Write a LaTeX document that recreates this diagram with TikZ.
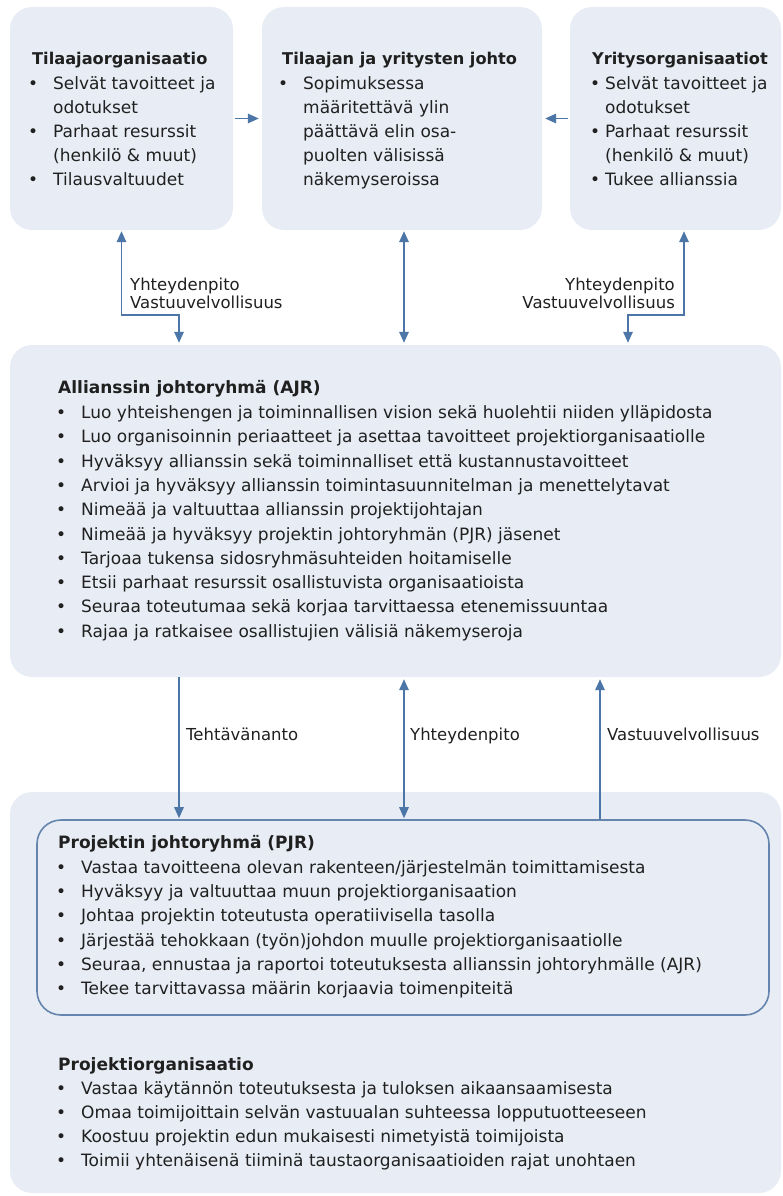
\documentclass[tikz,border=0pt]{standalone}
\usepackage{fontspec}
\setmainfont{DejaVu Sans}
\usetikzlibrary{arrows.meta}
\definecolor{boxfill}{HTML}{E8EDF5}
\definecolor{arrowc}{HTML}{4C76A8}
\definecolor{pjrline}{HTML}{6584AE}
\definecolor{txt}{HTML}{202020}
\newcommand{\bul}{\llap{\textbullet\hspace{15pt}}}
\newcommand{\bulR}{\llap{\textbullet\hspace{5pt}}}
\tikzset{
  panel/.style={fill=boxfill, draw=none, rounded corners=22pt, inner sep=0pt},
  line/.style={anchor=west, inner sep=0pt, text height=11pt, text depth=0pt,
    text=txt, font=\fontsize{17}{24}\selectfont},
  ttl/.style={line, font=\fontsize{17}{24}\selectfont\bfseries},
  topttl/.style={line, font=\fontsize{16.2}{24}\selectfont\bfseries},
  lbl/.style={inner sep=0pt, text height=11pt, text depth=0pt,
    text=txt, font=\fontsize{16.5}{18}\selectfont},
  conn/.style={draw=arrowc, line width=1.5pt,
    >={Triangle[length=11pt,width=9.5pt]}},
}
\begin{document}
\begin{tikzpicture}[x=1pt,y=-1pt]
\fill[white] (0,0) rectangle (782,1196);
\useasboundingbox (0,0) rectangle (782,1196);

% ---------- panels ----------
\node[panel, minimum width=223pt, minimum height=223pt] (tl) at (121.5,118.5) {};
\node[panel, minimum width=280pt, minimum height=223pt] (tm) at (402,118.5) {};
\node[panel, minimum width=211pt, minimum height=223pt] (tr) at (675.5,118.5) {};
\node[panel, minimum width=771pt, minimum height=332pt] (ajr) at (395.5,511) {};
\node[panel, minimum width=771pt, minimum height=401pt] (low) at (395.5,992.5) {};
\node[draw=pjrline, line width=1.6pt, rounded corners=24pt, inner sep=0pt,
      minimum width=732pt, minimum height=195pt] (pjr) at (403,917.5) {};

% ---------- top-left ----------
\node[topttl] (tlT) at (32,59) {Tilaajaorganisaatio};
\node[line] (tl1) at (53,84) {\bul Selvät tavoitteet ja};
\node[line] (tl2) at (53,108) {odotukset};
\node[line] (tl3) at (53,132) {\bul Parhaat resurssit};
\node[line] (tl4) at (53,156) {(henkilö \& muut)};
\node[line] (tl5) at (53,180) {\bul Tilausvaltuudet};

% ---------- top-middle ----------
\node[topttl] (tmT) at (282,59) {Tilaajan ja yritysten johto};
\node[line] (tm1) at (303,84) {\bul Sopimuksessa};
\node[line] (tm2) at (303,108) {määritettävä ylin};
\node[line] (tm3) at (303,132) {päättävä elin osa-};
\node[line] (tm4) at (303,156) {puolten välisissä};
\node[line] (tm5) at (303,180) {näkemyseroissa};

% ---------- top-right ----------
\node[topttl] (trT) at (592,59) {Yritysorganisaatiot};
\node[line] (tr1) at (605,84) {\bulR Selvät tavoitteet ja};
\node[line] (tr2) at (605,108) {odotukset};
\node[line] (tr3) at (605,132) {\bulR Parhaat resurssit};
\node[line] (tr4) at (605,156) {(henkilö \& muut)};
\node[line] (tr5) at (605,180) {\bulR Tukee allianssia};

% ---------- top connectors ----------
\draw[conn,->] ([xshift=2pt]tl.east) -- ([xshift=-3pt]tm.west);
\draw[conn,->] ([xshift=-2pt]tr.west) -- ([xshift=3pt]tm.east);

\coordinate (kL) at (179,315);
\coordinate (kR) at (628,315);
\coordinate (mX) at (404,0);
\coordinate (rX) at (684,0);
\draw[conn,<->] ([yshift=-1pt]tl.south) |- (kL) -- ([yshift=2pt]ajr.north -| kL);
\draw[conn,<->] ([yshift=-1pt]tm.south -| mX) -- ([yshift=2pt]ajr.north -| mX);
\draw[conn,<->] ([yshift=-1pt]tr.south -| rX) |- (kR) -- ([yshift=2pt]ajr.north -| kR);

\node[lbl, anchor=west] (lL1) at (130,285) {Yhteydenpito};
\node[lbl, anchor=west] (lL2) at (130,303) {Vastuuvelvollisuus};
\node[lbl, anchor=east] (lR1) at (675,285) {Yhteydenpito};
\node[lbl, anchor=east] (lR2) at (675,303) {Vastuuvelvollisuus};

% ---------- AJR ----------
\node[ttl] (ajrT) at (58,388) {Allianssin johtoryhmä (AJR)};
\foreach \t [count=\i from 0] in {
  {Luo yhteishengen ja toiminnallisen vision sekä huolehtii niiden ylläpidosta},
  {Luo organisoinnin periaatteet ja asettaa tavoitteet projektiorganisaatiolle},
  {Hyväksyy allianssin sekä toiminnalliset että kustannustavoitteet},
  {Arvioi ja hyväksyy allianssin toimintasuunnitelman ja menettelytavat},
  {Nimeää ja valtuuttaa allianssin projektijohtajan},
  {Nimeää ja hyväksyy projektin johtoryhmän (PJR) jäsenet},
  {Tarjoaa tukensa sidosryhmäsuhteiden hoitamiselle},
  {Etsii parhaat resurssit osallistuvista organisaatioista},
  {Seuraa toteutumaa sekä korjaa tarvittaessa etenemissuuntaa},
  {Rajaa ja ratkaisee osallistujien välisiä näkemyseroja}}
  \node[line] (ajr\i) at (81,{413+24.3*\i}) {\bul\t};

% ---------- lower connectors ----------
\coordinate (bA) at (179,0);
\coordinate (bB) at (404,0);
\coordinate (bC) at (600,0);
\draw[conn,->] (ajr.south -| bA) -- ([yshift=1pt]pjr.north -| bA);
\draw[conn,<->] ([yshift=-2pt]ajr.south -| bB) -- ([yshift=1pt]pjr.north -| bB);
\draw[conn,->] (pjr.north -| bC) -- ([yshift=-2pt]ajr.south -| bC);
\node[lbl, anchor=west] (lb1) at (186,735) {Tehtävänanto};
\node[lbl, anchor=west] (lb2) at (410,735) {Yhteydenpito};
\node[lbl, anchor=west] (lb3) at (607,735) {Vastuuvelvollisuus};

% ---------- PJR ----------
\node[ttl] (pjrT) at (58,843) {Projektin johtoryhmä (PJR)};
\foreach \t [count=\i from 0] in {
  {Vastaa tavoitteena olevan rakenteen/järjestelmän toimittamisesta},
  {Hyväksyy ja valtuuttaa muun projektiorganisaation},
  {Johtaa projektin toteutusta operatiivisella tasolla},
  {Järjestää tehokkaan (työn)johdon muulle projektiorganisaatiolle},
  {Seuraa, ennustaa ja raportoi toteutuksesta allianssin johtoryhmälle (AJR)},
  {Tekee tarvittavassa määrin korjaavia toimenpiteitä}}
  \node[line] (pjr\i) at (81,{868+24.2*\i}) {\bul\t};

% ---------- Projektiorganisaatio ----------
\node[ttl] (poT) at (58,1065) {Projektiorganisaatio};
\foreach \t [count=\i from 0] in {
  {Vastaa käytännön toteutuksesta ja tuloksen aikaansaamisesta},
  {Omaa toimijoittain selvän vastuualan suhteessa lopputuotteeseen},
  {Koostuu projektin edun mukaisesti nimetyistä toimijoista},
  {Toimii yhtenäisenä tiiminä taustaorganisaatioiden rajat unohtaen}}
  \node[line] (po\i) at (81,{1089+24.1*\i}) {\bul\t};
\end{tikzpicture}
\end{document}
